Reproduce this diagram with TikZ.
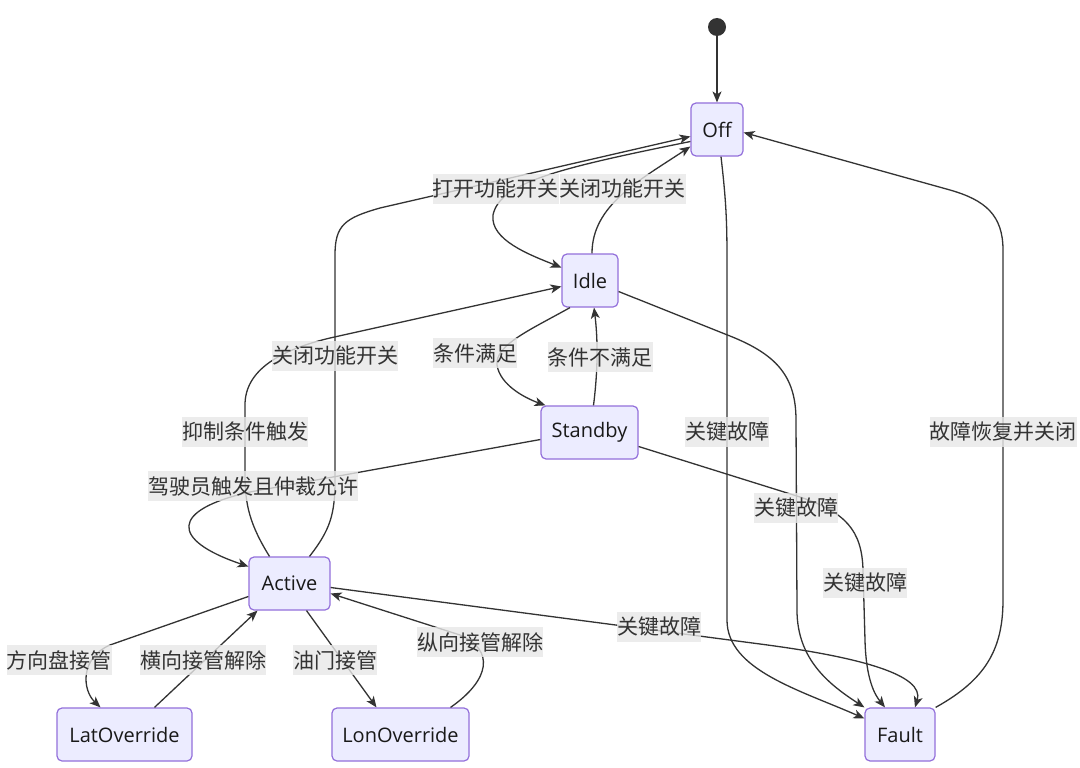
\documentclass[tikz,border=0pt]{standalone}
\usepackage{fontspec}
\setmainfont{Open Sans}
\newfontfamily\cjk{Noto Sans CJK SC}
\usetikzlibrary{arrows.meta}
\definecolor{nodefill}{HTML}{ECECFF}
\definecolor{nodeline}{HTML}{9370DB}
\definecolor{edgec}{HTML}{333333}
\definecolor{lblbg}{HTML}{E8E8E8}
\begin{document}
\begin{tikzpicture}[x=1pt,y=-1pt,
 state/.style={draw=nodeline,fill=nodefill,rounded corners=5pt,line width=1.2pt,minimum height=53pt,inner sep=0pt,font=\fontsize{20}{24}\selectfont,text=black!90},
 lbl/.style={fill=lblbg,fill opacity=0.8,text opacity=1,inner sep=0pt,minimum height=30pt,font=\cjk\fontsize{21}{24}\selectfont,text=edgec},
 tr/.style={draw=edgec,line width=1.3pt,-{Stealth[length=11pt,width=9pt,inset=3pt]}},
]
\useasboundingbox (0,0) rectangle (1080,768);
\fill[white] (0,0) rectangle (1080,768);

\node[circle,fill=edgec,minimum size=18pt,inner sep=0pt] (start) at (717,27) {};
\node[state,minimum width=52pt] (Off) at (717,129.5) {Off};
\node[state,minimum width=56pt] (Idle) at (590,280.5) {Idle};
\node[state,minimum width=97pt] (Standby) at (589.5,432.5) {Standby};
\node[state,minimum width=81pt] (Active) at (289.5,583.5) {Active};
\node[state,minimum width=135pt] (LatOverride) at (124.5,734.5) {LatOverride};
\node[state,minimum width=137pt] (LonOverride) at (400.5,734.5) {LonOverride};
\node[state,minimum width=70pt] (Fault) at (900,734.5) {Fault};

\draw[tr] (start) -- (Off);
\draw[tr] ([yshift=-12pt]Off.west) .. controls (560,168) and (500,182) .. (493,215) .. controls (490,240) and (530,255) .. ([yshift=13pt]Idle.west);
\draw[tr] ([xshift=2pt]Idle.north) .. controls (592,205) and (640,180) .. ([yshift=-17pt]Off.west);
\draw[tr] ([xshift=20pt]Active.north) .. controls (330,530) and (335,515) .. (335,480) -- (335,255) .. controls (335,225) and (345,218) .. (380,208) -- ([yshift=-7pt]Off.west);
\draw[tr] ([xshift=-20pt]Active.north) .. controls (250,525) and (245,505) .. (245,475) -- (245,405) .. controls (245,370) and (280,350) .. (330,338) -- ([yshift=-6pt]Idle.west);
\draw[tr] ([xshift=-20pt]Idle.south) .. controls (530,330) and (495,345) .. (497,365) .. controls (500,385) and (525,398) .. ([xshift=-44pt]Standby.north);
\draw[tr] ([xshift=4pt]Standby.north) .. controls (598,370) and (598,340) .. ([xshift=4pt]Idle.south);
\draw[tr] ([yshift=-7pt]Standby.west) -- (250,492) .. controls (170,510) and (170,540) .. ([yshift=17pt]Active.west);
\draw[tr] ([yshift=-13pt]Active.west) -- (110,645) .. controls (80,658) and (82,690) .. ([xshift=-24pt]LatOverride.north);
\draw[tr] ([xshift=30pt]LatOverride.north) -- ([xshift=-32pt]Active.south);
\draw[tr] ([xshift=17pt]Active.south) -- ([xshift=-24pt]LonOverride.north);
\draw[tr] ([xshift=50pt]LonOverride.north) .. controls (490,680) and (495,650) .. (460,635) -- ([yshift=-10pt]Active.east);
\draw[tr] ([yshift=-4pt]Active.east) -- (760,644) .. controls (860,657) and (925,675) .. ([xshift=15pt]Fault.north);
\draw[tr] ([xshift=4pt]Off.south) .. controls (726,200) and (727,220) .. (727,260) -- (727,620) .. controls (727,670) and (800,690) .. ([yshift=16pt]Fault.west);
\draw[tr] ([yshift=-11pt]Idle.east) -- (730,336) .. controls (775,354) and (796,375) .. (796,420) -- (797,610) .. controls (797,660) and (830,685) .. (Fault.north west);
\draw[tr] ([yshift=-14pt]Standby.east) -- (800,497) .. controls (845,512) and (862,530) .. (863,570) -- (865,640) .. controls (866,680) and (875,695) .. ([xshift=-15pt]Fault.north);
\draw[tr] (Fault.north east) .. controls (985,680) and (1003,650) .. (1003,600) -- (1003,250) .. controls (1003,215) and (985,200) .. (950,190) -- ([yshift=-3pt]Off.east);

\node[lbl] (l1) at (495.5,188.5) {打开功能开关};
\node[lbl] (l2) at (622.5,188.5) {关闭功能开关};
\node[lbl] (l3) at (335,356) {关闭功能开关};
\node[lbl] (l4) at (245,432) {抑制条件触发};
\node[lbl] (l5) at (475,353) {条件满足};
\node[lbl] (l6) at (600,357) {条件不满足};
\node[lbl] (l7) at (253,486) {驾驶员触发且仲裁允许};
\node[lbl] (l8) at (727,432) {关键故障};
\node[lbl] (l9) at (796,508) {关键故障};
\node[lbl] (l10) at (865,583) {关键故障};
\node[lbl] (l11) at (659,627) {关键故障};
\node[lbl] (l12) at (1003,432) {故障恢复并关闭};
\node[lbl] (l13) at (59,660) {方向盘接管};
\node[lbl] (l14) at (203,660) {横向接管解除};
\node[lbl] (l15) at (335,660) {油门接管};
\node[lbl] (l16) at (480,642) {纵向接管解除};
\end{tikzpicture}
\end{document}
